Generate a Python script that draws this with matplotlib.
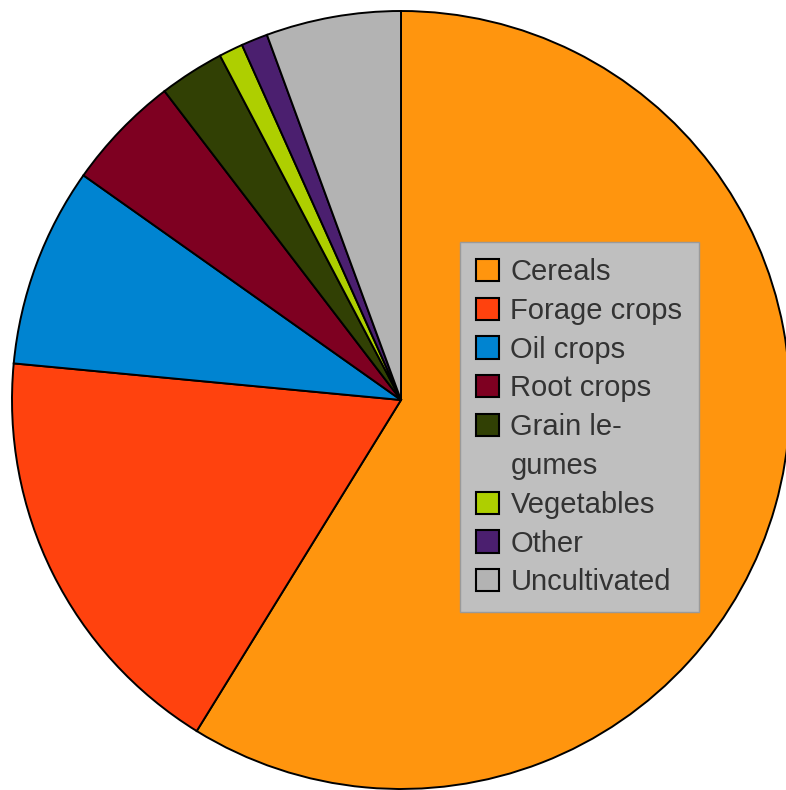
import matplotlib.pyplot as plt
from matplotlib.patches import Patch

# land use shares (percent)
labels = ['Cereals', 'Forage crops', 'Oil crops', 'Root crops',
          'Grain le-', 'Vegetables', 'Other', 'Uncultivated']
shares = [58.8, 17.7, 8.3, 4.8, 2.7, 1.0, 1.1, 5.6]
colors = ['#ff950e', '#ff420e', '#0084d1', '#7e0021',
          '#314004', '#aecf00', '#4b1f6f', '#b3b3b3']

plt.rcParams['font.family'] = ['Liberation Sans', 'DejaVu Sans']

W, H = 786, 790
fig = plt.figure(figsize=(W / 100, H / 100), dpi=100)
ax = fig.add_axes([0, 0, 1, 1])

cx, cy, r = 401, 400, 389  # pixels, y from top
ax.pie(shares, colors=colors, startangle=90, counterclock=False,
       radius=1.0, center=(0, 0),
       wedgeprops=dict(edgecolor='black', linewidth=1.4))
ax.set_xlim(-cx / r, (W - cx) / r)
ax.set_ylim(-(H - cy) / r, cy / r)
ax.set_aspect('equal')
ax.axis('off')

# legend entries; the wrapped "gumes" line gets an invisible handle
handles, names = [], []
for lab, c in zip(labels, colors):
    handles.append(Patch(facecolor=c, edgecolor='black', linewidth=1.5))
    names.append(lab)
    if lab == 'Grain le-':
        handles.append(Patch(facecolor='none', edgecolor='none'))
        names.append('gumes')

leg = ax.legend(handles, names, loc='upper left',
                bbox_to_anchor=(460 / W, 1 - 242 / H), bbox_transform=fig.transFigure,
                fontsize=21, frameon=True, fancybox=False,
                handlelength=0.8, handleheight=0.8, handletextpad=0.38,
                labelspacing=0.37, borderpad=0.55, borderaxespad=0)
frame = leg.get_frame()
frame.set_facecolor('#bfbfbf')
frame.set_edgecolor('#9a9a9a')
frame.set_linewidth(1)
frame.set_alpha(1)
for t in leg.get_texts():
    t.set_color('#333333')

fig.savefig('out.png', dpi=100)
